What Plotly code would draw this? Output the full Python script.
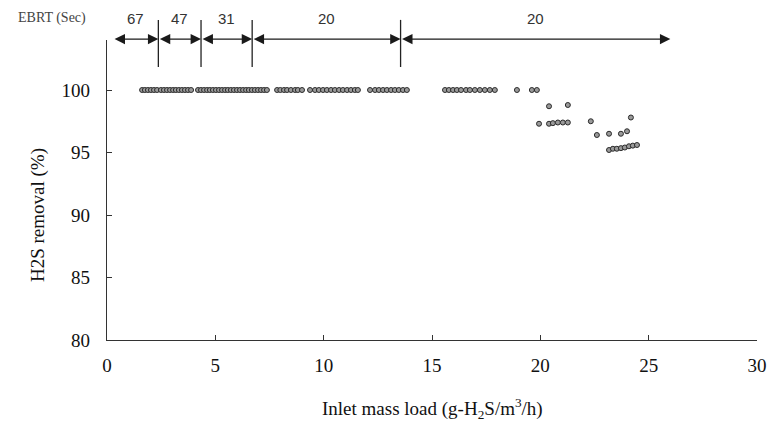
import plotly.graph_objects as go

# Data: inlet mass load (g-H2S/m3/h) vs H2S removal (%)
load_100 = [1.62, 1.75, 1.89, 2.03, 2.17, 2.31,
            2.49, 2.63, 2.77, 2.91, 3.05, 3.18, 3.32, 3.46, 3.60, 3.74, 3.88,
            4.20, 4.34, 4.48, 4.62, 4.75, 4.89, 5.03, 5.17, 5.31, 5.45, 5.58, 5.72,
            5.86, 6.00, 6.14, 6.28, 6.42, 6.55, 6.69, 6.83, 6.97, 7.11, 7.25, 7.38,
            7.85, 8.00, 8.17, 8.31, 8.49, 8.68, 8.81, 9.00,
            9.37,
            9.60, 9.78, 9.97, 10.15, 10.34, 10.52, 10.71, 10.89, 11.08, 11.26, 11.44, 11.58,
            12.14,
            12.37, 12.55, 12.74, 12.92, 13.11, 13.29, 13.47, 13.66, 13.84,
            15.60, 15.78, 15.97, 16.15, 16.34, 16.57, 16.75, 16.98, 17.21, 17.44, 17.67, 17.90,
            18.92, 19.61, 19.84]
removal_100 = [100.0] * len(load_100)

load_other = [20.40, 21.27,
              19.94, 20.40, 20.58, 20.81, 21.04, 21.27,
              22.33, 22.61, 23.17, 23.72, 24.00, 24.18,
              23.17, 23.35, 23.53, 23.72, 23.90, 24.09, 24.27, 24.46]
removal_other = [98.7, 98.8,
                 97.3, 97.3, 97.35, 97.4, 97.4, 97.4,
                 97.5, 96.4, 96.5, 96.5, 96.7, 97.8,
                 95.2, 95.3, 95.3, 95.35, 95.4, 95.5, 95.55, 95.6]

# EBRT periods
ebrt_labels = ["67", "47", "31", "20", "20"]
ebrt_start = [0.28, 2.37, 4.34, 6.70, 13.55]
ebrt_end = [2.37, 4.34, 6.70, 13.55, 26.0]
separators = [2.37, 4.34, 6.70, 13.55]

x_ticks = [0, 5, 10, 15, 20, 25, 30]
y_ticks = [80, 85, 90, 95, 100]

serif = "Liberation Serif, Times New Roman, serif"

fig = go.Figure()
fig.add_trace(go.Scatter(
    x=load_100 + load_other, y=removal_100 + removal_other,
    mode="markers",
    marker=dict(symbol="circle", size=5, color="#9a9a9a",
                line=dict(color="#2a2a2a", width=1)),
    showlegend=False, cliponaxis=False))

ann = []
for s, e, lab in zip(ebrt_start, ebrt_end, ebrt_labels):
    ann.append(dict(x=e, y=1.003, xref="x", yref="paper",
                    ax=s, ay=0, axref="x", ayref="pixel",
                    text="", showarrow=True, arrowside="end+start",
                    arrowhead=2, arrowsize=1.6, arrowwidth=1.3,
                    arrowcolor="#1a1a1a", standoff=0, startstandoff=0))
    ann.append(dict(x=(s + e) / 2, y=1.073, xref="x", yref="paper", text=lab,
                    showarrow=False, yanchor="middle",
                    font=dict(family="Liberation Sans, Arial", size=15, color="#333")))
ann.append(dict(x=(52 - 107) / 650, y=1.073, xref="paper", yref="paper",
                text="EBRT (Sec)", showarrow=False, yanchor="middle", xanchor="center",
                font=dict(family=serif, size=14, color="#444")))
# axis titles
ann.append(dict(x=(432 - 107) / 650, y=(340 - 408) / 300, xref="paper", yref="paper",
                text="Inlet mass load (g-H<sub>2</sub>S/m<sup>3</sup>/h)",
                showarrow=False, xanchor="center", yanchor="middle",
                font=dict(family=serif, size=19, color="#111")))
ann.append(dict(x=(38 - 107) / 650, y=(340 - 215) / 300, xref="paper", yref="paper",
                text="H2S removal (%)", textangle=-90,
                showarrow=False, xanchor="center", yanchor="middle",
                font=dict(family=serif, size=19, color="#111")))

shapes = []
for sx in separators:
    shapes.append(dict(type="line", xref="x", yref="paper", x0=sx, x1=sx,
                       y0=0.91, y1=1.067, line=dict(color="#222", width=1.3)))

tickfont = dict(family=serif, size=19, color="#111")
# page body has an 8px margin, so the figure is sized/offset to compensate
fig.update_layout(
    width=770, height=429,
    margin=dict(l=99, r=21, t=32, b=97),
    plot_bgcolor="white", paper_bgcolor="white",
    annotations=ann, shapes=shapes,
    xaxis=dict(range=[0, 30], tickvals=x_ticks, ticks="inside", ticklen=5,
               tickcolor="#333", showline=True, linecolor="#333", linewidth=1.3,
               showgrid=False, zeroline=False, tickfont=tickfont,
               ticklabelstandoff=8, automargin=False),
    yaxis=dict(range=[80, 104], tickvals=y_ticks, ticks="inside", ticklen=5,
               tickcolor="#333", showline=True, linecolor="#333", linewidth=1.3,
               showgrid=False, zeroline=False, tickfont=tickfont,
               ticklabelstandoff=12, automargin=False),
)

fig.write_html("out.html")
